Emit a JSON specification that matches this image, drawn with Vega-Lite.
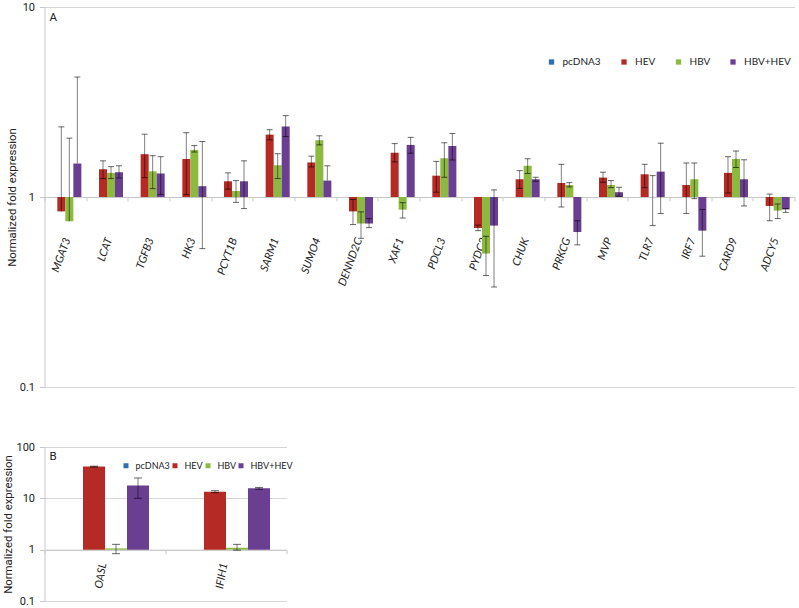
{
  "$schema": "https://vega.github.io/schema/vega-lite/v6.json",
  "padding": {"left": 2.5, "top": 1, "right": 4, "bottom": 2},
  "config": {
    "view": {"stroke": null},
    "font": "Roboto",
    "axisY": {"domainColor": "#c8c8c8", "tickColor": "#c8c8c8", "tickSize": 5, "gridColor": "#d6d6d6", "labelFont": "Roboto", "labelFontSize": 11, "labelColor": "#222", "labelPadding": 5, "titleFont": "Roboto", "titleFontSize": 11.4, "titleFontWeight": "normal", "titleColor": "#222", "titlePadding": 2, "format": "~g"},
    "axisX": {"domainColor": "#c8c8c8", "tickColor": "#c8c8c8", "tickSize": 4, "tickBand": "extent", "grid": false, "labelFont": "Lato", "labelFontStyle": "italic", "labelFontSize": 11, "labelColor": "#222", "labelAlign": "right", "labelBaseline": "middle", "title": null},
    "title": {"fontSize": 11.5, "fontWeight": "normal", "font": "Roboto", "anchor": "start", "frame": "group", "color": "#222"}
  },
  "datasets": {
    "A": [
      {"gene":"MGAT3","s":"pcDNA3","v":1},{"gene":"MGAT3","s":"HEV","v":0.84,"hi":2.34},{"gene":"MGAT3","s":"HBV","v":0.745,"hi":2.04},{"gene":"MGAT3","s":"HBV+HEV","v":1.5,"hi":4.28},
      {"gene":"LCAT","s":"pcDNA3","v":1},{"gene":"LCAT","s":"HEV","v":1.4,"lo":1.25,"hi":1.55},{"gene":"LCAT","s":"HBV","v":1.34,"lo":1.25,"hi":1.445},{"gene":"LCAT","s":"HBV+HEV","v":1.35,"lo":1.26,"hi":1.46},
      {"gene":"TGFB3","s":"pcDNA3","v":1},{"gene":"TGFB3","s":"HEV","v":1.68,"lo":1.265,"hi":2.14},{"gene":"TGFB3","s":"HBV","v":1.365,"lo":1.107,"hi":1.65},{"gene":"TGFB3","s":"HBV+HEV","v":1.33,"lo":1.03,"hi":1.63},
      {"gene":"HK3","s":"pcDNA3","v":1},{"gene":"HK3","s":"HEV","v":1.585,"lo":1.03,"hi":2.18},{"gene":"HK3","s":"HBV","v":1.77,"lo":1.725,"hi":1.865},{"gene":"HK3","s":"HBV+HEV","v":1.14,"lo":0.535,"hi":1.96},
      {"gene":"PCYT1B","s":"pcDNA3","v":1},{"gene":"PCYT1B","s":"HEV","v":1.21,"lo":1.1,"hi":1.34},{"gene":"PCYT1B","s":"HBV","v":1.075,"lo":0.937,"hi":1.22},{"gene":"PCYT1B","s":"HBV+HEV","v":1.21,"lo":0.869,"hi":1.55},
      {"gene":"SARM1","s":"pcDNA3","v":1},{"gene":"SARM1","s":"HEV","v":2.13,"lo":2.0,"hi":2.26},{"gene":"SARM1","s":"HBV","v":1.47,"lo":1.25,"hi":1.69},{"gene":"SARM1","s":"HBV+HEV","v":2.35,"lo":2.08,"hi":2.68},
      {"gene":"SUMO4","s":"pcDNA3","v":1},{"gene":"SUMO4","s":"HEV","v":1.52,"lo":1.44,"hi":1.64},{"gene":"SUMO4","s":"HBV","v":1.99,"lo":1.88,"hi":2.1},{"gene":"SUMO4","s":"HBV+HEV","v":1.22,"hi":1.46},
      {"gene":"DENND2C","s":"pcDNA3","v":1},{"gene":"DENND2C","s":"HEV","v":0.84,"lo":0.716,"hi":0.97},{"gene":"DENND2C","s":"HBV","v":0.725,"lo":0.606,"hi":0.835},{"gene":"DENND2C","s":"HBV+HEV","v":0.725,"lo":0.69,"hi":0.77},
      {"gene":"XAF1","s":"pcDNA3","v":1},{"gene":"XAF1","s":"HEV","v":1.71,"lo":1.53,"hi":1.91},{"gene":"XAF1","s":"HBV","v":0.858,"lo":0.775,"hi":0.934},{"gene":"XAF1","s":"HBV+HEV","v":1.88,"lo":1.7,"hi":2.06},
      {"gene":"PDCL3","s":"pcDNA3","v":1},{"gene":"PDCL3","s":"HEV","v":1.295,"lo":1.06,"hi":1.54},{"gene":"PDCL3","s":"HBV","v":1.6,"lo":1.27,"hi":1.93},{"gene":"PDCL3","s":"HBV+HEV","v":1.855,"lo":1.566,"hi":2.16},
      {"gene":"PYDC2","s":"pcDNA3","v":1},{"gene":"PYDC2","s":"HEV","v":0.687,"lo":0.665,"hi":0.712},{"gene":"PYDC2","s":"HBV","v":0.504,"lo":0.386,"hi":0.621},{"gene":"PYDC2","s":"HBV+HEV","v":0.707,"lo":0.336,"hi":1.09},
      {"gene":"CHUK","s":"pcDNA3","v":1},{"gene":"CHUK","s":"HEV","v":1.24,"lo":1.11,"hi":1.377},{"gene":"CHUK","s":"HBV","v":1.46,"lo":1.33,"hi":1.59},{"gene":"CHUK","s":"HBV+HEV","v":1.24,"lo":1.21,"hi":1.27},
      {"gene":"PRKCG","s":"pcDNA3","v":1},{"gene":"PRKCG","s":"HEV","v":1.185,"lo":0.886,"hi":1.486},{"gene":"PRKCG","s":"HBV","v":1.156,"lo":1.13,"hi":1.19},{"gene":"PRKCG","s":"HBV+HEV","v":0.654,"lo":0.56,"hi":0.75},
      {"gene":"MVP","s":"pcDNA3","v":1},{"gene":"MVP","s":"HEV","v":1.265,"lo":1.195,"hi":1.35},{"gene":"MVP","s":"HBV","v":1.156,"lo":1.12,"hi":1.22},{"gene":"MVP","s":"HBV+HEV","v":1.06,"lo":1.01,"hi":1.125},
      {"gene":"TLR7","s":"pcDNA3","v":1},{"gene":"TLR7","s":"HEV","v":1.317,"lo":1.12,"hi":1.486},{"gene":"TLR7","s":"HBV","v":1.0,"lo":0.707,"hi":1.296},{"gene":"TLR7","s":"HBV+HEV","v":1.36,"lo":0.818,"hi":1.92},
      {"gene":"IRF7","s":"pcDNA3","v":1},{"gene":"IRF7","s":"HEV","v":1.156,"lo":0.818,"hi":1.51},{"gene":"IRF7","s":"HBV","v":1.24,"lo":0.98,"hi":1.51},{"gene":"IRF7","s":"HBV+HEV","v":0.665,"lo":0.488,"hi":0.86},
      {"gene":"CARD9","s":"pcDNA3","v":1},{"gene":"CARD9","s":"HEV","v":1.34,"lo":1.05,"hi":1.63},{"gene":"CARD9","s":"HBV","v":1.585,"lo":1.43,"hi":1.746},{"gene":"CARD9","s":"HBV+HEV","v":1.24,"lo":0.897,"hi":1.57},
      {"gene":"ADCY5","s":"pcDNA3","v":1},{"gene":"ADCY5","s":"HEV","v":0.897,"lo":0.75,"hi":1.036},{"gene":"ADCY5","s":"HBV","v":0.848,"lo":0.77,"hi":0.919},{"gene":"ADCY5","s":"HBV+HEV","v":0.86,"lo":0.83,"hi":0.87}
    ],
    "B": [
      {"gene":"OASL","s":"pcDNA3","v":1},{"gene":"OASL","s":"HEV","v":41.5,"lo":40.6,"hi":42.3},{"gene":"OASL","s":"HBV","v":1.06,"lo":0.835,"hi":1.27},{"gene":"OASL","s":"HBV+HEV","v":17.7,"lo":10,"hi":24.9},
      {"gene":"IFIH1","s":"pcDNA3","v":1},{"gene":"IFIH1","s":"HEV","v":13.5,"lo":12.9,"hi":14.1},{"gene":"IFIH1","s":"HBV","v":1.09,"lo":0.98,"hi":1.27},{"gene":"IFIH1","s":"HBV+HEV","v":15.7,"lo":15.0,"hi":16.3}
    ]
  },
  "resolve": {"scale": {"x": "independent", "xOffset": "independent", "y": "independent"}, "legend": {"color": "independent"}},
  "columns": 1,
  "align": "none",
  "spacing": 49,
  "concat": [
    {
      "data": {"name": "A"},
      "width": 750,
      "height": 380,
      "title": {"text": "A", "offset": -22, "dx": 5},
      "encoding": {
        "x": {"field": "gene", "type": "nominal", "sort": null, "scale": {"paddingInner": 0, "paddingOuter": 0}, "axis": {"offset": -190, "labelAngle": -70, "labelPadding": 37, "labelOffset": 2}},
        "xOffset": {"field": "s", "type": "nominal", "sort": ["pcDNA3", "HEV", "HBV", "HBV+HEV"], "scale": {"paddingInner": 0, "paddingOuter": 0.6}}
      },
      "layer": [
        {
          "mark": {"type": "bar"},
          "encoding": {
            "y": {"field": "v", "type": "quantitative", "scale": {"type": "log", "domain": [0.1, 10]}, "axis": {"values": [0.1, 1, 10], "title": "Normalized fold expression"}},
            "y2": {"datum": 1},
            "color": {"field": "s", "type": "nominal", "sort": ["pcDNA3", "HEV", "HBV", "HBV+HEV"],
              "scale": {"domain": ["pcDNA3", "HEV", "HBV", "HBV+HEV"], "range": ["#2f6db5", "#b52a25", "#8cb940", "#6a3e90"]},
              "legend": {"orient": "none", "legendX": 502, "legendY": 50, "direction": "horizontal", "title": null, "symbolType": "square", "symbolSize": 28, "symbolStrokeWidth": 0, "labelFont": "Lato", "labelFontSize": 10, "labelColor": "#222", "columnPadding": 17.5, "labelOffset": 6}}
          }
        },
        {
          "transform": [{"filter": {"field": "hi", "valid": true}}],
          "mark": {"type": "rule", "color": "#000", "opacity": 0.5},
          "encoding": {"y": {"field": "v", "type": "quantitative"}, "y2": {"field": "hi"}}
        },
        {
          "transform": [{"filter": {"field": "lo", "valid": true}}],
          "mark": {"type": "rule", "color": "#000", "opacity": 0.5},
          "encoding": {"y": {"field": "lo", "type": "quantitative"}, "y2": {"field": "v"}}
        },
        {
          "transform": [{"filter": {"field": "hi", "valid": true}}],
          "mark": {"type": "tick", "color": "#000", "opacity": 0.6, "size": 6, "thickness": 1},
          "encoding": {"y": {"field": "hi", "type": "quantitative"}}
        },
        {
          "transform": [{"filter": {"field": "lo", "valid": true}}],
          "mark": {"type": "tick", "color": "#000", "opacity": 0.6, "size": 6, "thickness": 1},
          "encoding": {"y": {"field": "lo", "type": "quantitative"}}
        }
      ]
    },
    {
      "data": {"name": "B"},
      "width": 242,
      "height": 154,
      "title": {"text": "B", "offset": -21, "dx": 5},
      "encoding": {
        "x": {"field": "gene", "type": "nominal", "sort": null, "scale": {"paddingInner": 0, "paddingOuter": 0}, "axis": {"offset": -51.33, "labelAngle": -80, "labelPadding": 9, "labelOffset": -2}},
        "xOffset": {"field": "s", "type": "nominal", "sort": ["pcDNA3", "HEV", "HBV", "HBV+HEV"], "scale": {"paddingInner": 0, "paddingOuter": 0.75}}
      },
      "layer": [
        {
          "mark": {"type": "bar"},
          "encoding": {
            "y": {"field": "v", "type": "quantitative", "scale": {"type": "log", "domain": [0.1, 100]}, "axis": {"values": [0.1, 1, 10, 100], "title": "Normalized fold expression"}},
            "y2": {"datum": 1},
            "color": {"field": "s", "type": "nominal", "sort": ["pcDNA3", "HEV", "HBV", "HBV+HEV"],
              "scale": {"domain": ["pcDNA3", "HEV", "HBV", "HBV+HEV"], "range": ["#2f6db5", "#b52a25", "#8cb940", "#6a3e90"]},
              "legend": {"orient": "none", "legendX": 77, "legendY": 14, "direction": "horizontal", "title": null, "symbolType": "square", "symbolSize": 25, "symbolStrokeWidth": 0, "labelFont": "Lato", "labelFontSize": 9, "labelColor": "#222", "columnPadding": 0, "labelOffset": 5}}
          }
        },
        {
          "transform": [{"filter": {"field": "hi", "valid": true}}],
          "mark": {"type": "rule", "color": "#000", "opacity": 0.5},
          "encoding": {"y": {"field": "v", "type": "quantitative"}, "y2": {"field": "hi"}}
        },
        {
          "transform": [{"filter": {"field": "lo", "valid": true}}],
          "mark": {"type": "rule", "color": "#000", "opacity": 0.5},
          "encoding": {"y": {"field": "lo", "type": "quantitative"}, "y2": {"field": "v"}}
        },
        {
          "transform": [{"filter": {"field": "hi", "valid": true}}],
          "mark": {"type": "tick", "color": "#000", "opacity": 0.6, "size": 8, "thickness": 1},
          "encoding": {"y": {"field": "hi", "type": "quantitative"}}
        },
        {
          "transform": [{"filter": {"field": "lo", "valid": true}}],
          "mark": {"type": "tick", "color": "#000", "opacity": 0.6, "size": 8, "thickness": 1},
          "encoding": {"y": {"field": "lo", "type": "quantitative"}}
        }
      ]
    }
  ]
}
